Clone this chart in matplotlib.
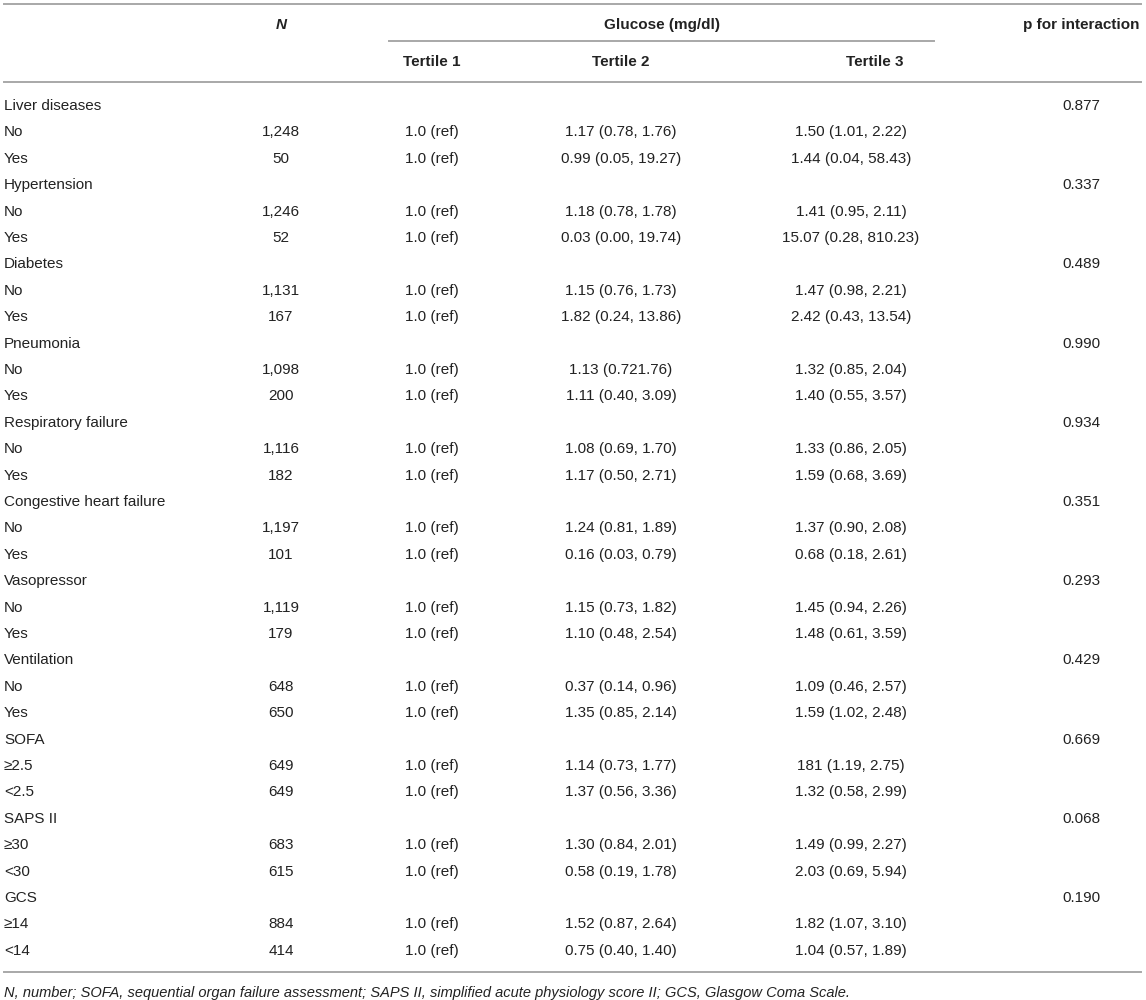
import matplotlib
matplotlib.use('Agg')
import matplotlib.pyplot as plt

plt.rcParams['font.family'] = ['Liberation Sans', 'DejaVu Sans']

# subgroup data
groups = ['Liver diseases', 'Hypertension', 'Diabetes', 'Pneumonia', 'Respiratory failure',
          'Congestive heart failure', 'Vasopressor', 'Ventilation', 'SOFA', 'SAPS II', 'GCS']
p_interaction = ['0.877', '0.337', '0.489', '0.990', '0.934', '0.351', '0.293', '0.429',
                 '0.669', '0.068', '0.190']
sub_labels = [['No', 'Yes'], ['No', 'Yes'], ['No', 'Yes'], ['No', 'Yes'], ['No', 'Yes'],
              ['No', 'Yes'], ['No', 'Yes'], ['No', 'Yes'], ['≥2.5', '<2.5'], ['≥30', '<30'],
              ['≥14', '<14']]
n_values = [['1,248', '50'], ['1,246', '52'], ['1,131', '167'], ['1,098', '200'],
            ['1,116', '182'], ['1,197', '101'], ['1,119', '179'], ['648', '650'],
            ['649', '649'], ['683', '615'], ['884', '414']]
tertile1 = '1.0 (ref)'
tertile2 = [['1.17 (0.78, 1.76)', '0.99 (0.05, 19.27)'],
            ['1.18 (0.78, 1.78)', '0.03 (0.00, 19.74)'],
            ['1.15 (0.76, 1.73)', '1.82 (0.24, 13.86)'],
            ['1.13 (0.721.76)', '1.11 (0.40, 3.09)'],
            ['1.08 (0.69, 1.70)', '1.17 (0.50, 2.71)'],
            ['1.24 (0.81, 1.89)', '0.16 (0.03, 0.79)'],
            ['1.15 (0.73, 1.82)', '1.10 (0.48, 2.54)'],
            ['0.37 (0.14, 0.96)', '1.35 (0.85, 2.14)'],
            ['1.14 (0.73, 1.77)', '1.37 (0.56, 3.36)'],
            ['1.30 (0.84, 2.01)', '0.58 (0.19, 1.78)'],
            ['1.52 (0.87, 2.64)', '0.75 (0.40, 1.40)']]
tertile3 = [['1.50 (1.01, 2.22)', '1.44 (0.04, 58.43)'],
            ['1.41 (0.95, 2.11)', '15.07 (0.28, 810.23)'],
            ['1.47 (0.98, 2.21)', '2.42 (0.43, 13.54)'],
            ['1.32 (0.85, 2.04)', '1.40 (0.55, 3.57)'],
            ['1.33 (0.86, 2.05)', '1.59 (0.68, 3.69)'],
            ['1.37 (0.90, 2.08)', '0.68 (0.18, 2.61)'],
            ['1.45 (0.94, 2.26)', '1.48 (0.61, 3.59)'],
            ['1.09 (0.46, 2.57)', '1.59 (1.02, 2.48)'],
            ['181 (1.19, 2.75)', '1.32 (0.58, 2.99)'],
            ['1.49 (0.99, 2.27)', '2.03 (0.69, 5.94)'],
            ['1.82 (1.07, 3.10)', '1.04 (0.57, 1.89)']]
footnote = ('N, number; SOFA, sequential organ failure assessment; SAPS II, simplified acute '
            'physiology score II; GCS, Glasgow Coma Scale.')

W, H = 1146, 1000
fig = plt.figure(figsize=(W / 100, H / 100), dpi=100)
ax = fig.add_axes([0, 0, 1, 1])
ax.set_xlim(0, W)
ax.set_ylim(H, 0)
ax.axis('off')

txt = '#222222'
rule = '#a8a8a8'
fs = 11

# column x positions
x_label, x_n, x_t1, x_t2, x_t3, x_p = 4, 281, 432, 621, 851, 1081

# rules
ax.plot([4, 1141], [4, 4], color=rule, lw=1.4)
ax.plot([389, 934], [41, 41], color=rule, lw=1.4)
ax.plot([4, 1141], [82, 82], color=rule, lw=1.4)
ax.plot([4, 1141], [972, 972], color=rule, lw=1.4)

# header
ax.text(x_n, 25, 'N', ha='center', va='center', fontsize=fs, fontweight='bold',
        fontstyle='italic', color=txt)
ax.text(662, 25, 'Glucose (mg/dl)', ha='center', va='center', fontsize=fs,
        fontweight='bold', color=txt)
ax.text(x_p, 25, 'p for interaction', ha='center', va='center', fontsize=fs,
        fontweight='bold', color=txt)
for x, lab in zip([x_t1, x_t2, 875], ['Tertile 1', 'Tertile 2', 'Tertile 3']):
    ax.text(x, 62, lab, ha='center', va='center', fontsize=fs, fontweight='bold', color=txt)

# body
y0, step = 106, 26.4
row = 0
for g, grp in enumerate(groups):
    y = y0 + row * step
    ax.text(x_label, y, grp, ha='left', va='center', fontsize=fs, color=txt)
    ax.text(x_p, y, p_interaction[g], ha='center', va='center', fontsize=fs, color=txt)
    row += 1
    for k in range(2):
        y = y0 + row * step
        ax.text(x_label, y, sub_labels[g][k], ha='left', va='center', fontsize=fs, color=txt)
        ax.text(x_n, y, n_values[g][k], ha='center', va='center', fontsize=fs, color=txt)
        ax.text(x_t1, y, tertile1, ha='center', va='center', fontsize=fs, color=txt)
        ax.text(x_t2, y, tertile2[g][k], ha='center', va='center', fontsize=fs, color=txt)
        ax.text(x_t3, y, tertile3[g][k], ha='center', va='center', fontsize=fs, color=txt)
        row += 1

ax.text(x_label, 993, footnote, ha='left', va='center', fontsize=10.5,
        fontstyle='italic', color=txt)

fig.savefig('out.png', dpi=100)
